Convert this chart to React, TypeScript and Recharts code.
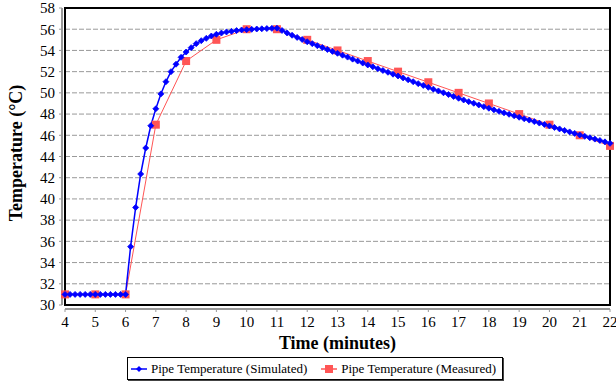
import React from "react";
import {
  LineChart,
  Line,
  XAxis,
  YAxis,
  CartesianGrid,
  ReferenceArea,
  Label,
} from "recharts";

// simulated run is sampled every 10 s starting at minute 4
const simStartMin = 4;
const simStepMin = 1 / 6;
const simTemps = [
  31, 31, 31, 31, 31, 31, 31, 31, 31, 31, 31, 31, 31,
  35.5, 39.2, 42.35, 44.8, 46.9, 48.5, 49.9, 51.05, 52.0, 52.7, 53.35,
  53.85, 54.26, 54.64, 54.92, 55.14, 55.36,
  55.52, 55.64, 55.74, 55.8, 55.87, 55.93,
  55.96, 55.99, 56.02, 56.04, 56.06, 56.08,
  56.1, 55.88, 55.65, 55.43, 55.23, 55.03,
  54.82, 54.64, 54.45, 54.27, 54.09, 53.91,
  53.73, 53.55, 53.37, 53.18, 53.0, 52.81,
  52.63, 52.46, 52.28, 52.11, 51.94, 51.76,
  51.59, 51.41, 51.23, 51.05, 50.87, 50.7,
  50.52, 50.35, 50.18, 50.01, 49.84, 49.66,
  49.49, 49.33, 49.17, 49.02, 48.86, 48.7,
  48.55, 48.4, 48.26, 48.12, 47.98, 47.84,
  47.7, 47.56, 47.43, 47.29, 47.15, 47.02,
  46.88, 46.74, 46.6, 46.46, 46.32, 46.18,
  46.03, 45.9, 45.77, 45.64, 45.51, 45.38,
  45.24,
];

const measuredTimes = [4, 5, 6, 7, 8, 9, 10, 11, 12, 13, 14, 15, 16, 17, 18, 19, 20, 21, 22];
const measuredTemps = [31, 31, 31, 47, 53, 55, 56, 56, 55, 54, 53, 52, 51, 50, 49, 48, 47, 46, 45];

const xTicks = [4, 5, 6, 7, 8, 9, 10, 11, 12, 13, 14, 15, 16, 17, 18, 19, 20, 21, 22];
const yTicks = [30, 32, 34, 36, 38, 40, 42, 44, 46, 48, 50, 52, 54, 56, 58];

const simName = "Pipe Temperature (Simulated)";
const measName = "Pipe Temperature (Measured)";

const BLUE = "#0000ff";
const RED = "#ff5555";
const SERIF = '"Liberation Serif", "Times New Roman", serif';

const simData = simTemps.map((t, i) => ({ time: simStartMin + i * simStepMin, temp: t }));
const measData = measuredTimes.map((m, i) => ({ time: m, temp: measuredTemps[i] }));

const Diamond = (props: any) => {
  const { cx, cy, index } = props;
  if (cx == null || cy == null) return <g key={`d${index}`} />;
  return (
    <path
      key={`d${index}`}
      d={`M${cx},${cy - 3}L${cx + 3},${cy}L${cx},${cy + 3}L${cx - 3},${cy}Z`}
      fill={BLUE}
      stroke={BLUE}
      strokeWidth={0.8}
    />
  );
};

const Square = (props: any) => {
  const { cx, cy, index } = props;
  if (cx == null || cy == null) return <g key={`s${index}`} />;
  return <rect key={`s${index}`} x={cx - 4} y={cy - 4} width={8} height={8} fill={RED} />;
};

function LegendBox() {
  return (
    <div
      style={{
        position: "absolute",
        left: 127,
        top: 357,
        width: 374,
        height: 21,
        border: "1px solid #000",
        boxShadow: "1px 1px 0 #444",
        display: "flex",
        alignItems: "center",
        fontFamily: SERIF,
        fontSize: 13,
        color: "#000",
        background: "#fff",
        whiteSpace: "nowrap",
      }}
    >
      <svg width={20} height={10} style={{ marginLeft: 2 }}>
        <line x1={1} y1={5} x2={17} y2={5} stroke={BLUE} strokeWidth={1.5} />
        <path d="M9,2L12,5L9,8L6,5Z" fill={BLUE} />
      </svg>
      <span style={{ marginLeft: 1 }}>{simName}</span>
      <svg width={20} height={10} style={{ marginLeft: 13 }}>
        <line x1={1} y1={5} x2={17} y2={5} stroke={RED} strokeWidth={1.5} />
        <rect x={5} y={1} width={8} height={8} fill={RED} />
      </svg>
      <span style={{ marginLeft: 1 }}>{measName}</span>
    </div>
  );
}

export default function App() {
  return (
    <div style={{ position: "absolute", left: 0, top: 0, width: 616, height: 385, background: "#fff" }}>
      <LineChart width={616} height={385} margin={{ top: 8, right: 6, bottom: 35, left: 0 }}>
        <CartesianGrid vertical={false} stroke="#999" strokeDasharray="5 2" />
        <XAxis
          type="number"
          dataKey="time"
          domain={[4, 22]}
          ticks={xTicks}
          interval={0}
          height={45}
          tickSize={3}
          tickMargin={8}
          axisLine={{ stroke: "#999", strokeWidth: 2, transform: "translate(0,4)" }}
          tickLine={{ stroke: "#999", transform: "translate(0,4)" }}
          tick={{ fill: "#000", fontFamily: SERIF, fontSize: 15 }}
        >
          <Label
            content={(p: any) => {
              const vb = p.viewBox || {};
              return (
                <text
                  x={vb.x + vb.width / 2}
                  y={349}
                  textAnchor="middle"
                  fontFamily={SERIF}
                  fontSize={18}
                  fontWeight="bold"
                  fill="#000"
                >
                  Time (minutes)
                </text>
              );
            }}
          />
        </XAxis>
        <YAxis
          type="number"
          domain={[30, 58]}
          ticks={yTicks}
          interval={0}
          width={65}
          tickSize={3}
          tickMargin={7}
          axisLine={{ stroke: "#999", strokeWidth: 2, transform: "translate(-3,0)" }}
          tickLine={{ stroke: "#999", transform: "translate(-3,0)" }}
          tick={{ fill: "#000", fontFamily: SERIF, fontSize: 15 }}
        >
          <Label
            content={() => (
              <text
                x={16}
                y={153}
                transform="rotate(-90 16 153)"
                textAnchor="middle"
                dominantBaseline="central"
                fontFamily={SERIF}
                fontSize={18}
                fontWeight="bold"
                fill="#000"
              >
                Temperature (°C)
              </text>
            )}
          />
        </YAxis>
        <Line
          data={measData}
          dataKey="temp"
          name={measName}
          stroke={RED}
          strokeWidth={1}
          dot={Square}
          activeDot={false}
          isAnimationActive={false}
        />
        <Line
          data={simData}
          dataKey="temp"
          name={simName}
          stroke={BLUE}
          strokeWidth={1.5}
          dot={Diamond}
          activeDot={false}
          isAnimationActive={false}
        />
        <ReferenceArea x1={4} x2={22} y1={30} y2={58} fill="none" stroke="#000" strokeWidth={2} />
      </LineChart>
      <LegendBox />
    </div>
  );
}
